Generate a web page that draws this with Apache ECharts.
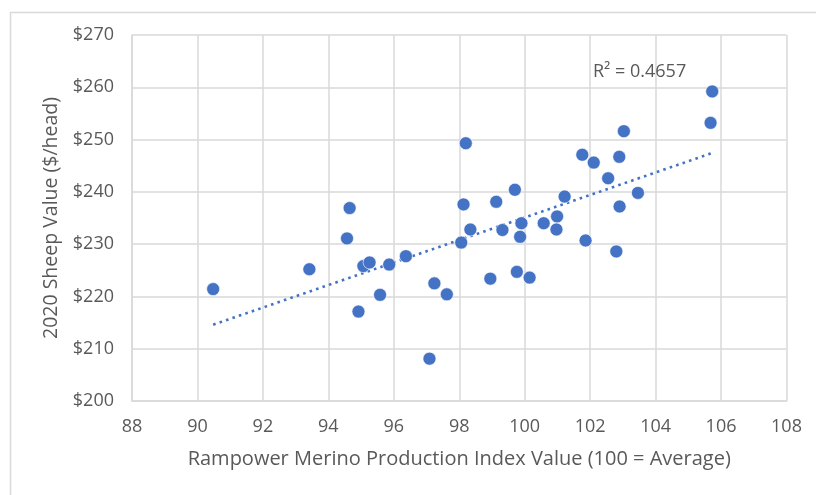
<!DOCTYPE html>
<html>
<head>
<meta charset="utf-8">
<script src="https://cdn.jsdelivr.net/npm/echarts@6/dist/echarts.min.js"></script>
<style>
html,body{margin:0;padding:0;background:#fff;}
#chart{width:816px;height:495px;}
</style>
</head>
<body>
<div id="chart"></div>
<script>
// Rampower Merino Production Index Value (x) vs 2020 Sheep Value $/head (y)
var indexValues = [90.48, 93.42, 94.65, 94.57, 94.92, 95.07, 95.26, 95.58, 95.86, 96.37,
                   97.24, 97.62, 97.09, 98.13, 98.06, 98.34, 98.20, 99.13, 99.70, 99.90,
                   99.32, 99.86, 100.58, 100.99, 100.97, 101.22, 98.95, 99.76, 100.15, 101.86,
                   101.76, 102.11, 102.55, 103.03, 102.89, 103.46, 102.90, 102.80, 105.73, 105.68];
var sheepValues = [221.4, 225.2, 236.9, 231.1, 217.1, 225.8, 226.5, 220.3, 226.1, 227.7,
                   222.5, 220.4, 208.1, 237.6, 230.3, 232.8, 249.3, 238.1, 240.4, 234.0,
                   232.7, 231.4, 234.0, 235.3, 232.8, 239.1, 223.4, 224.7, 223.6, 230.7,
                   247.1, 245.6, 242.6, 251.6, 246.7, 239.8, 237.2, 228.6, 259.2, 253.2];
var xTicks = {min: 88, max: 108, step: 2};
var yTicks = {min: 200, max: 270, step: 10};
var r2Label = 'R² = 0.4657';
var xTitle = 'Rampower Merino Production Index Value (100 = Average)';
var yTitle = '2020 Sheep Value ($/head)';

var points = indexValues.map(function (x, i) { return [x, sheepValues[i]]; });

// linear least-squares trendline from the data
var n = indexValues.length, sx = 0, sy = 0, sxx = 0, sxy = 0;
for (var i = 0; i < n; i++) {
  sx += indexValues[i]; sy += sheepValues[i];
  sxx += indexValues[i] * indexValues[i]; sxy += indexValues[i] * sheepValues[i];
}
var slope = (n * sxy - sx * sy) / (n * sxx - sx * sx);
var intercept = (sy - slope * sx) / n;
var xMin = Math.min.apply(null, indexValues), xMax = Math.max.apply(null, indexValues);
var trend = [[xMin, intercept + slope * xMin], [xMax, intercept + slope * xMax]];

var FONT = 'Open Sans';
var TXT = '#595959';
var GRID = '#d9d9d9';
var BLUE = '#4472C4';

var chart = echarts.init(document.getElementById('chart'), null, {renderer: 'canvas'});
chart.setOption({
  animation: false,
  backgroundColor: '#fff',
  grid: {left: 132, right: 29.5, top: 35, bottom: 94, containLabel: false},
  xAxis: {
    type: 'value', min: xTicks.min, max: xTicks.max, interval: xTicks.step,
    name: xTitle, nameLocation: 'middle', nameGap: 48,
    nameTextStyle: {color: TXT, fontFamily: FONT, fontSize: 20},
    axisLine: {show: true, lineStyle: {color: GRID, width: 1.5}},
    axisTick: {show: false},
    axisLabel: {color: TXT, fontFamily: FONT, fontSize: 18, margin: 17},
    splitLine: {show: true, lineStyle: {color: GRID, width: 1.5}}
  },
  yAxis: {
    type: 'value', min: yTicks.min, max: yTicks.max, interval: yTicks.step,
    name: yTitle, nameLocation: 'middle', nameGap: 69,
    nameTextStyle: {color: TXT, fontFamily: FONT, fontSize: 19.5},
    axisLine: {show: true, lineStyle: {color: GRID, width: 1.5}},
    axisTick: {show: false},
    axisLabel: {color: TXT, fontFamily: FONT, fontSize: 18, margin: 18,
                formatter: function (v) { return '$' + v; }},
    splitLine: {show: true, lineStyle: {color: GRID, width: 1.5}}
  },
  graphic: [
    {type: 'rect', left: 8, top: 10, z: -10, silent: true,
     shape: {x: 0, y: 0, width: 900, height: 600},
     style: {fill: 'none', stroke: GRID, lineWidth: 1.5}},
    {type: 'text', left: 593, top: 63, z: 10,
     style: {text: r2Label, fill: TXT, font: '18px "' + FONT + '"'}}
  ],
  series: [
    {
      type: 'line', data: trend, showSymbol: false, symbol: 'none', z: 2,
      lineStyle: {color: BLUE, width: 2.6, type: [2.6, 4.2]}
    },
    {
      type: 'scatter', data: points, symbol: 'circle', symbolSize: 13, z: 3,
      itemStyle: {color: BLUE, borderColor: '#ffffff', borderWidth: 0.6, opacity: 1}
    }
  ]
});
</script>
</body>
</html>
